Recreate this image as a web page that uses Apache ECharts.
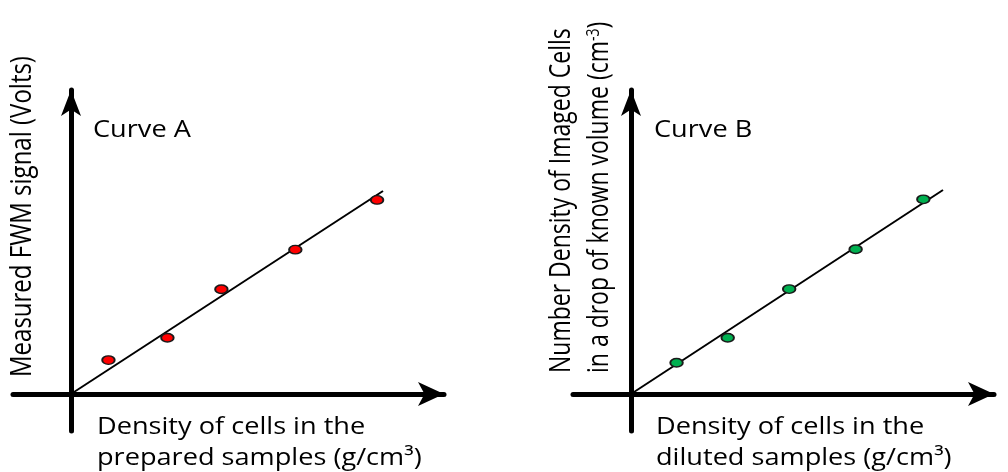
<!DOCTYPE html>
<html>
<head>
<meta charset="utf-8">
<script src="https://cdn.jsdelivr.net/npm/echarts@6/dist/echarts.min.js"></script>
<style>
  html, body { margin: 0; padding: 0; background: #ffffff; }
  #chart { width: 1008px; height: 472px; }
</style>
</head>
<body>
<div id="chart"></div>
<script>
// Curve A: measured FWM signal vs. density of cells in the prepared samples
const curveAX = [1.20, 3.09, 4.82, 7.19, 9.81];
const curveAY = [1.67, 2.77, 5.16, 7.11, 9.56];
// Curve B: number density of imaged cells vs. density in the diluted samples
const curveBX = [1.46, 3.10, 5.07, 7.20, 9.37];
const curveBY = [1.54, 2.77, 5.17, 7.13, 9.59];
// Linear fits through the origin
const fitAX = [0, 10];
const fitAY = [0, 10];
const fitBX = [0, 10];
const fitBY = [0, 10.05];

const panelNames = ['Curve A', 'Curve B'];
const xTitleA = ['Density of cells in the', 'prepared samples (g/cm³)'];
const xTitleB = ['Density of cells in the', 'diluted samples (g/cm³)'];
const yTitleA = 'Measured FWM signal (Volts)';
const yTitleB = ['Number Density of Imaged Cells', 'in a drop of known volume (cm', '-3', ')'];

const FONT = '"Open Sans", "Liberation Sans", sans-serif';
const FS = 23;       // horizontal lettering
const FSV = 24;      // rotated title, left panel
const FSVB = 23;     // rotated titles, right panel
const SX = 1.18;     // stretch across the lettering
const SXV = 1.25;
const ELLIPSE = 'path://M0,5 A10,5 0 1,0 20,5 A10,5 0 1,0 0,5 Z';

function pairs(xs, ys) { return xs.map((x, i) => [x, ys[i]]); }

function axisX(grid, max) {
  return {
    type: 'value', gridIndex: grid, min: -1.859, max: max,
    axisLine: { onZero: true, lineStyle: { color: '#000', width: 5 },
                symbol: ['none', 'arrow'], symbolSize: [18, 26] },
    axisTick: { show: false }, axisLabel: { show: false }, splitLine: { show: false }
  };
}
function axisY(grid) {
  return {
    type: 'value', gridIndex: grid, min: -1.823, max: 14.975,
    axisLine: { onZero: true, lineStyle: { color: '#000', width: 5 },
                symbol: ['none', 'arrow'], symbolSize: [15, 26] },
    axisTick: { show: false }, axisLabel: { show: false }, splitLine: { show: false }
  };
}
function scatter(idx, xs, ys, color) {
  return {
    type: 'scatter', xAxisIndex: idx, yAxisIndex: idx, z: 3,
    data: pairs(xs, ys), symbol: ELLIPSE, symbolSize: [12.5, 8.5],
    itemStyle: { color: color, borderColor: '#1a1a1a', borderWidth: 1.6, opacity: 1 }
  };
}
function fit(idx, xs, ys) {
  return {
    type: 'line', xAxisIndex: idx, yAxisIndex: idx, z: 2,
    data: pairs(xs, ys), showSymbol: false, symbol: 'none',
    lineStyle: { color: '#000', width: 2 }
  };
}
function hText(text, x, y) {
  return {
    type: 'text', x: x, y: y, scaleX: SX, z: 10,
    style: { text: text, font: FS + 'px ' + FONT, fill: '#000',
             textAlign: 'left', textVerticalAlign: 'middle', verticalAlign: 'middle' }
  };
}
function vText(text, x, y, size, rich) {
  const el = {
    type: 'text', x: x, y: y, rotation: Math.PI / 2, scaleY: SXV, z: 10,
    style: { text: text, font: size + 'px ' + FONT, fill: '#000',
             textAlign: 'left', textVerticalAlign: 'middle', verticalAlign: 'middle' }
  };
  if (rich) el.style.rich = rich;
  return el;
}

const chart = echarts.init(document.getElementById('chart'), null, { renderer: 'canvas' });
chart.setOption({
  animation: false,
  backgroundColor: '#ffffff',
  grid: [
    { left: 13, right: 564, top: 90, bottom: 41, containLabel: false },
    { left: 573, right: 14, top: 90, bottom: 41, containLabel: false }
  ],
  xAxis: [axisX(0, 11.955), axisX(1, 11.635)],
  yAxis: [axisY(0), axisY(1)],
  series: [
    fit(0, fitAX, fitAY),
    scatter(0, curveAX, curveAY, '#ff0000'),
    fit(1, fitBX, fitBY),
    scatter(1, curveBX, curveBY, '#00b050')
  ],
  graphic: [
    hText(panelNames[0], 93, 130.5),
    hText(panelNames[1], 654, 130.5),
    hText(xTitleA[0], 97, 427.5),
    hText(xTitleA[1], 97, 458.5),
    hText(xTitleB[0], 656, 427.5),
    hText(xTitleB[1], 656, 458.5),
    vText(yTitleA, 22, 377, FSV),
    vText(yTitleB[0], 562, 373, FSVB),
    vText('{t|' + yTitleB[1] + '}{s|' + yTitleB[2] + '}{t|' + yTitleB[3] + '}', 600, 373, FSVB, {
      t: { font: FSVB + 'px ' + FONT, fill: '#000', verticalAlign: 'bottom' },
      s: { font: '14px ' + FONT, fill: '#000', verticalAlign: 'top' }
    })
  ]
});
</script>
</body>
</html>
